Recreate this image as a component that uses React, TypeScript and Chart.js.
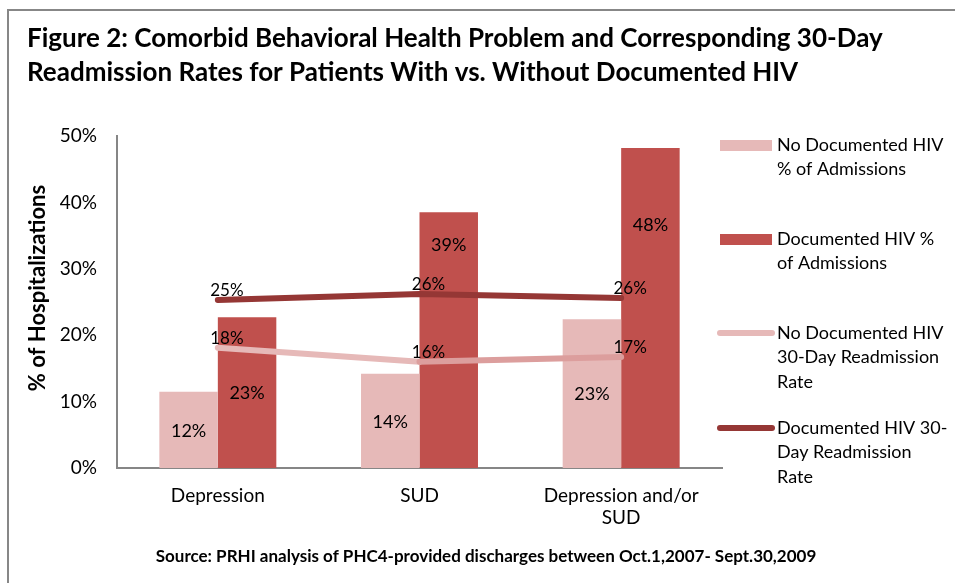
import React, { useEffect, useRef } from "react";
import { Chart, registerables } from "chart.js";

Chart.register(...registerables);

// ---------- data ----------
const categories: string[][] = [["Depression"], ["SUD"], ["Depression and/or", "SUD"]];
const noHivAdmissions = [11.5, 14.2, 22.4];
const hivAdmissions = [22.7, 38.5, 48.2];
const noHivReadmission = [18.1, 16.0, 16.7];
const hivReadmission = [25.3, 26.2, 25.6];

const noHivAdmissionLabels = ["12%", "14%", "23%"];
const hivAdmissionLabels = ["23%", "39%", "48%"];
const noHivReadmissionLabels = ["18%", "16%", "17%"];
const hivReadmissionLabels = ["25%", "26%", "26%"];
// data-value where a bar label sits (null = middle of bar)
const hivAdmissionLabelAt: (number | null)[] = [null, 33.6, 36.6];

const seriesNames = [
  ["No Documented HIV", "% of Admissions"],
  ["Documented HIV %", "of Admissions"],
  ["No Documented HIV", "30-Day Readmission", "Rate"],
  ["Documented HIV 30-", "Day Readmission", "Rate"],
];

const yTicks = [0, 10, 20, 30, 40, 50];

const titleLines = [
  "Figure 2: Comorbid Behavioral Health Problem and Corresponding 30-Day",
  "Readmission Rates for Patients With vs. Without Documented HIV",
];
const yTitle = "% of Hospitalizations";
const sourceText = "Source: PRHI analysis of PHC4-provided discharges between Oct.1,2007- Sept.30,2009";

// ---------- styles ----------
const FONT = "Lato, 'Open Sans', sans-serif";
const LIGHT = "#E6B9B8";
const DARK = "#C0504D";
const DARK_LINE = "#953735";
const LIGHT_LINE = "#E6B9B8";
const LIGHT_LINE_2 = "#DC9E9D";

const decorPlugin = {
  id: "decor",
  afterDatasetsDraw(chart: any) {
    const ctx = chart.ctx;
    const y = chart.scales.y;
    ctx.save();
    ctx.fillStyle = "#000";
    ctx.textAlign = "center";
    ctx.textBaseline = "middle";
    ctx.font = `18px ${FONT}`;
    const m0 = chart.getDatasetMeta(0);
    const m1 = chart.getDatasetMeta(1);
    m0.data.forEach((el: any, i: number) => {
      ctx.fillText(noHivAdmissionLabels[i], el.x, (el.y + el.base) / 2 + 1);
    });
    m1.data.forEach((el: any, i: number) => {
      const at = hivAdmissionLabelAt[i];
      const py = at == null ? (el.y + el.base) / 2 + 1 : y.getPixelForValue(at);
      ctx.fillText(hivAdmissionLabels[i], el.x, py);
    });
    ctx.font = `17px ${FONT}`;
    ctx.textBaseline = "alphabetic";
    const m2 = chart.getDatasetMeta(2);
    const m3 = chart.getDatasetMeta(3);
    m2.data.forEach((el: any, i: number) => {
      ctx.fillText(noHivReadmissionLabels[i], el.x + 9, el.y - 4);
    });
    m3.data.forEach((el: any, i: number) => {
      ctx.fillText(hivReadmissionLabels[i], el.x + 9, el.y - 4);
    });
    ctx.restore();
  },
  afterDraw(chart: any) {
    const ctx = chart.ctx;
    const area = chart.chartArea;
    ctx.save();
    // frame
    ctx.strokeStyle = "#878787";
    ctx.lineWidth = 2;
    ctx.strokeRect(8, 10, 1200, 1200);
    // title
    ctx.fillStyle = "#000";
    ctx.textAlign = "left";
    ctx.textBaseline = "alphabetic";
    ctx.font = `bold 26px ${FONT}`;
    ctx.fillText(titleLines[0], 27, 47);
    ctx.fillText(titleLines[1], 27, 81);
    // y title
    ctx.save();
    ctx.translate(45, 288);
    ctx.rotate(-Math.PI / 2);
    ctx.textAlign = "center";
    ctx.font = `bold 22px ${FONT}`;
    ctx.fillText(yTitle, 0, 0);
    ctx.restore();
    // source
    ctx.textAlign = "center";
    ctx.font = `bold 17px ${FONT}`;
    ctx.fillText(sourceText, 486, 562);
    // legend
    const lx = area.right - 2;
    const tx = area.right + 55;
    const firstLineY = [145, 239, 333, 428];
    const lineGap = 24.5;
    ctx.font = `18px ${FONT}`;
    ctx.textBaseline = "middle";
    ctx.textAlign = "left";
    chart.data.datasets.forEach((ds: any, i: number) => {
      const cy = firstLineY[i];
      if (ds.type === "line") {
        ctx.strokeStyle = ds.borderColor;
        ctx.lineWidth = 6;
        ctx.lineCap = "round";
        ctx.beginPath();
        ctx.moveTo(lx, cy);
        ctx.lineTo(lx + 52, cy);
        ctx.stroke();
      } else {
        ctx.fillStyle = ds.backgroundColor;
        ctx.fillRect(lx, cy - 5, 52, 11);
      }
      ctx.fillStyle = "#000";
      seriesNames[i].forEach((t, k) => ctx.fillText(t, tx, cy + k * lineGap));
    });
    ctx.restore();
  },
};

export default function App() {
  const ref = useRef<HTMLCanvasElement | null>(null);
  useEffect(() => {
    if (!ref.current) return;
    const chart = new Chart(ref.current, {
      type: "bar",
      data: {
        labels: categories,
        datasets: [
          { type: "bar", label: seriesNames[0].join(" "), data: noHivAdmissions, backgroundColor: LIGHT, order: 2 },
          { type: "bar", label: seriesNames[1].join(" "), data: hivAdmissions, backgroundColor: DARK, order: 2 },
          {
            type: "line", label: seriesNames[2].join(" "), data: noHivReadmission, borderColor: LIGHT_LINE,
            backgroundColor: LIGHT_LINE, borderWidth: 6, pointRadius: 0, borderCapStyle: "round", borderJoinStyle: "round", order: 1,
            segment: { borderColor: (c: any) => (c.p0DataIndex === 1 ? LIGHT_LINE_2 : LIGHT_LINE) },
          },
          {
            type: "line", label: seriesNames[3].join(" "), data: hivReadmission, borderColor: DARK_LINE,
            backgroundColor: DARK_LINE, borderWidth: 6, pointRadius: 0, borderCapStyle: "round", borderJoinStyle: "round", order: 0,
          },
        ] as any,
      },
      options: {
        responsive: false,
        animation: false,
        layout: { padding: { left: 17, top: 136, right: 233, bottom: 55 } },
        datasets: { bar: { barPercentage: 1, categoryPercentage: 0.58 } } as any,
        plugins: { legend: { display: false }, tooltip: { enabled: false }, title: { display: false } },
        scales: {
          x: {
            grid: { display: false, drawTicks: false },
            border: { display: true, color: "#868686", width: 2 },
            ticks: { color: "#000", font: { family: FONT, size: 19 }, padding: 16, maxRotation: 0, autoSkip: false },
            afterFit: (s: any) => { s.height = 60; },
          },
          y: {
            min: 0,
            max: 50,
            afterBuildTicks: (s: any) => { s.ticks = yTicks.map((v) => ({ value: v })); },
            grid: { display: false, drawTicks: false },
            border: { display: true, color: "#868686", width: 2 },
            ticks: { color: "#000", font: { family: FONT, size: 19 }, padding: 20, callback: (v: any) => v + "%" },
            afterFit: (s: any) => { s.width = 100; },
          },
        },
      },
      plugins: [decorPlugin],
    });
    return () => chart.destroy();
  }, []);
  return (
    <div style={{ position: "fixed", left: 0, top: 0, width: 955, height: 583, background: "#fff" }}>
      <canvas ref={ref} width={955} height={583} />
    </div>
  );
}
